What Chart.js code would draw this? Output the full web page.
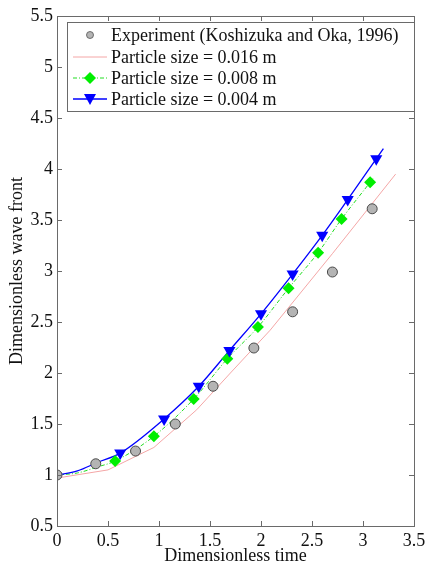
<!DOCTYPE html>
<html><head><meta charset="utf-8">
<script src="https://cdn.jsdelivr.net/npm/chart.js@4"></script>
<style>html,body{margin:0;padding:0;background:#fff}#w{width:425px;height:567px;position:relative}</style>
</head><body><div id="w"><canvas id="c" width="425" height="567"></canvas></div>
<script>
const xTicks = [0,0.5,1,1.5,2,2.5,3,3.5];
const yTicks = [0.5,1,1.5,2,2.5,3,3.5,4,4.5,5,5.5];
const seriesNames = ['Experiment (Koshizuka and Oka, 1996)','Particle size = 0.016 m','Particle size = 0.008 m','Particle size = 0.004 m'];

const expX = [0,0.38,0.77,1.16,1.53,1.93,2.31,2.70,3.09];
const expY = [1.0,1.11,1.235,1.5,1.87,2.245,2.6,2.99,3.61];

const redX = [0,0.5,0.95,1.37,1.7,2.09,2.7,3.32];
const redY = [0.97,1.05,1.27,1.64,2.0,2.42,3.17,3.95];

const greenLineX = [0,0.2,0.4,0.57,0.95,1.34,1.67,1.97,2.27,2.56,2.79,3.07,3.1];
const greenLineY = [1.0,1.02,1.08,1.137,1.38,1.745,2.14,2.45,2.83,3.18,3.51,3.87,3.91];
const greenMarkX = [0.57,0.95,1.34,1.67,1.97,2.27,2.56,2.79,3.07];
const greenMarkY = [1.137,1.38,1.745,2.14,2.45,2.83,3.18,3.51,3.87];

const blueLineX = [0,0.2,0.4,0.62,1.05,1.39,1.69,2.0,2.31,2.60,2.85,3.13,3.2];
const blueLineY = [1.0,1.04,1.125,1.215,1.55,1.87,2.22,2.58,2.97,3.35,3.70,4.10,4.2];
const blueMarkX = [0.62,1.05,1.39,1.69,2.0,2.31,2.60,2.85,3.13];
const blueMarkY = [1.215,1.55,1.87,2.22,2.58,2.97,3.35,3.70,4.10];

const pts = (xs, ys) => xs.map((x, i) => ({x, y: ys[i]}));
const FONT = 'Liberation Serif, Times New Roman, serif';
const FS = 18;

const axisPlugin = {
  id: 'axbox',
  afterDatasetsDraw(chart) {
    const {ctx, chartArea: a, scales: {x, y}} = chart;
    ctx.save();
    ctx.strokeStyle = '#6a6a6a';
    ctx.lineWidth = 1;
    ctx.strokeRect(Math.round(a.left)+0.5, Math.round(a.top)+0.5, Math.round(a.right-a.left), Math.round(a.bottom-a.top));
    const L = 5;
    ctx.beginPath();
    xTicks.forEach(v => {
      const px = Math.round(x.getPixelForValue(v)) + 0.5;
      ctx.moveTo(px, a.bottom); ctx.lineTo(px, a.bottom - L);
      ctx.moveTo(px, a.top); ctx.lineTo(px, a.top + L);
    });
    yTicks.forEach(v => {
      const py = Math.round(y.getPixelForValue(v)) + 0.5;
      ctx.moveTo(a.left, py); ctx.lineTo(a.left + L, py);
      ctx.moveTo(a.right, py); ctx.lineTo(a.right - L, py);
    });
    ctx.stroke();
    ctx.restore();
  },
  afterDraw(chart) {
    const {ctx, chartArea: a} = chart;
    const bx = 67, by = 22, bw = Math.round(a.right) - 67, bh = 89;
    ctx.save();
    ctx.fillStyle = '#fff';
    ctx.fillRect(bx, by, bw, bh);
    ctx.strokeStyle = '#6a6a6a';
    ctx.lineWidth = 1;
    ctx.strokeRect(bx + 0.5, by + 0.5, bw, bh);
    const rows = [35, 57, 78, 99];
    ctx.font = FS + 'px ' + FONT;
    ctx.fillStyle = '#111';
    ctx.textBaseline = 'middle';
    ctx.textAlign = 'left';
    rows.forEach((ry, i) => ctx.fillText(seriesNames[i], 111, ry + 1));
    ctx.beginPath(); ctx.arc(90, rows[0], 3.5, 0, Math.PI*2);
    ctx.fillStyle = '#b4b4b4'; ctx.fill(); ctx.strokeStyle = '#555'; ctx.lineWidth = 0.8; ctx.stroke();
    ctx.beginPath(); ctx.moveTo(73, rows[1]); ctx.lineTo(107, rows[1]);
    ctx.strokeStyle = '#f4a6a6'; ctx.lineWidth = 1; ctx.stroke();
    ctx.beginPath(); ctx.setLineDash([4,2,1,2]); ctx.moveTo(73, rows[2]); ctx.lineTo(107, rows[2]);
    ctx.strokeStyle = '#22dd22'; ctx.stroke(); ctx.setLineDash([]);
    ctx.beginPath(); ctx.moveTo(90, rows[2]-6); ctx.lineTo(96, rows[2]); ctx.lineTo(90, rows[2]+6); ctx.lineTo(84, rows[2]); ctx.closePath();
    ctx.fillStyle = '#00ee00'; ctx.fill();
    ctx.beginPath(); ctx.moveTo(73, rows[3]); ctx.lineTo(107, rows[3]);
    ctx.strokeStyle = '#0000ff'; ctx.lineWidth = 1.3; ctx.stroke();
    ctx.beginPath(); ctx.moveTo(84, rows[3]-5); ctx.lineTo(96, rows[3]-5); ctx.lineTo(90, rows[3]+6); ctx.closePath();
    ctx.fillStyle = '#0000ff'; ctx.fill();
    ctx.restore();
  }
};

new Chart(document.getElementById('c'), {
  type: 'scatter',
  data: {
    datasets: [
      {label: seriesNames[1], data: pts(redX, redY), showLine: true, borderColor: '#f4a6a6', borderWidth: 1, pointRadius: 0, tension: 0, order: 5},
      {label: seriesNames[2], data: pts(greenLineX, greenLineY), showLine: true, borderColor: '#22dd22', borderWidth: 1, borderDash: [4,2,1,2], pointRadius: 0, cubicInterpolationMode: 'monotone', order: 4},
      {label: seriesNames[3], data: pts(blueLineX, blueLineY), showLine: true, borderColor: '#0000ff', borderWidth: 1.3, pointRadius: 0, cubicInterpolationMode: 'monotone', order: 3},
      {label: seriesNames[2] + ' markers', data: pts(greenMarkX, greenMarkY), showLine: false, pointStyle: 'rectRot', pointRadius: 6, backgroundColor: '#00ee00', borderColor: '#00ee00', borderWidth: 0, order: 2},
      {label: seriesNames[3] + ' markers', data: pts(blueMarkX, blueMarkY), showLine: false, pointStyle: 'triangle', pointRotation: 180, pointRadius: 7, backgroundColor: '#0000ff', borderColor: '#0000ff', borderWidth: 0, order: 1},
      {label: seriesNames[0], data: pts(expX, expY), showLine: false, pointStyle: 'circle', pointRadius: 5, backgroundColor: '#b4b4b4', borderColor: '#4a4a4a', borderWidth: 1, order: 0}
    ]
  },
  options: {
    responsive: false,
    animation: false,
    layout: {padding: {top: 16, right: 11, left: 0, bottom: 0}},
    plugins: {legend: {display: false}, tooltip: {enabled: false}},
    scales: {
      x: {
        type: 'linear', min: 0, max: 3.5,
        afterBuildTicks: s => { s.ticks = xTicks.map(v => ({value: v})); },
        afterFit: s => { s.height = 41; s.paddingLeft = 0; s.paddingRight = 0; },
        grid: {display: false, drawTicks: false, tickLength: 0}, border: {display: false},
        ticks: {color: '#111', font: {family: FONT, size: FS}, padding: 4, maxRotation: 0, autoSkip: false, callback: v => String(v)},
        title: {display: true, text: 'Dimensionless time', color: '#111', font: {family: FONT, size: FS}, padding: {top: 0, bottom: 0}}
      },
      y: {
        type: 'linear', min: 0.5, max: 5.5,
        afterBuildTicks: s => { s.ticks = yTicks.map(v => ({value: v})); },
        afterFit: s => { s.width = 57; s.paddingTop = 0; s.paddingBottom = 0; },
        grid: {display: false, drawTicks: false, tickLength: 0}, border: {display: false},
        ticks: {color: '#111', font: {family: FONT, size: FS}, padding: 4, autoSkip: false, callback: v => String(v)},
        title: {display: true, text: 'Dimensionless wave front', color: '#111', font: {family: FONT, size: FS}, padding: {top: 6, bottom: 0}}
      }
    }
  },
  plugins: [axisPlugin]
});
</script></body></html>
